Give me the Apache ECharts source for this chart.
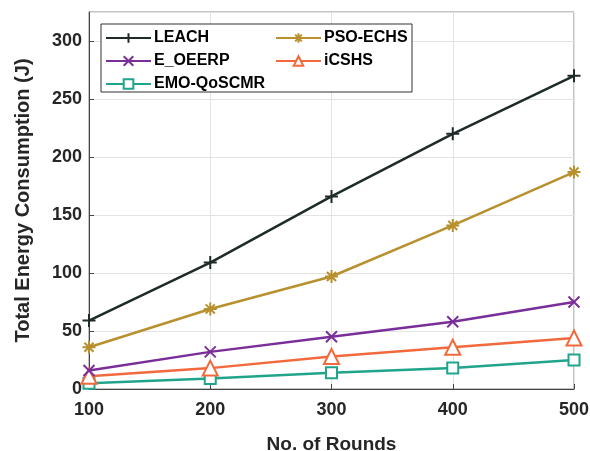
<!DOCTYPE html>
<html><head><meta charset="utf-8">
<script src="https://cdn.jsdelivr.net/npm/echarts@6/dist/echarts.min.js"></script>
<style>html,body{margin:0;padding:0;background:#fff}#c{width:590px;height:451px}</style>
</head><body><div id="c"></div>
<script>
const rounds = [100, 200, 300, 400, 500];
const leach = [59, 109, 166, 220, 270];
const psoEchs = [36, 69, 97, 141, 187];
const eOeerp = [16, 32, 45, 58, 75];
const icshs = [11, 18, 28, 36, 44];
const emo = [5, 9, 14, 18, 25];
const names = ['LEACH', 'PSO-ECHS', 'E_OEERP', 'iCSHS', 'EMO-QoSCMR'];
const colors = ['#1f2b28', '#b8902e', '#7a2e9a', '#f26a3c', '#20a58c'];
const values = [leach, psoEchs, eOeerp, icshs, emo];

const plus = 'path://M5,0L5,10M0,5L10,5';
const star = 'path://M5,0L5,10M0,5L10,5M1.5,1.5L8.5,8.5M8.5,1.5L1.5,8.5';
const cross = 'path://M0,0L10,10M10,0L0,10';
const symbols = [plus, star, cross, 'triangle', 'rect'];
const sizes = [13, 13, 11, 15, 11];

const font = 'Liberation Sans, Arial, sans-serif';
const chart = echarts.init(document.getElementById('c'));
const series = names.map((n, i) => ({
  name: n, type: 'line',
  data: rounds.map((r, j) => [r, values[i][j]]),
  symbol: symbols[i], symbolSize: sizes[i], showAllSymbol: true,
  lineStyle: {color: colors[i], width: 2.5},
  itemStyle: {color: i < 3 ? colors[i] : '#fff', borderColor: colors[i], borderWidth: 2},
  emphasis: {disabled: true},
  z: 10 - i
}));
const legendBase = {
  orient: 'vertical', itemWidth: 45, itemHeight: 12, itemGap: 7,
  textStyle: {fontFamily: font, fontWeight: 'bold', fontSize: 16, color: '#000', padding: [0,0,0,-2]},
  padding: 0
};
chart.setOption({
  animation: false,
  grid: {left: 89, right: 16, top: 12, bottom: 62, show: true, borderColor: '#888', borderWidth: 1,
    containLabel: false, outerBoundsMode: 'none'},
  graphic: [{type: 'rect', shape: {x: 101, y: 24, width: 311, height: 68},
    style: {fill: '#fff', stroke: '#333', lineWidth: 1}, z: 50}],
  legend: [
    Object.assign({}, legendBase, {left: 105, top: 30, data: ['LEACH', 'E_OEERP', 'EMO-QoSCMR'], z: 60}),
    Object.assign({}, legendBase, {left: 275, top: 30, data: ['PSO-ECHS', 'iCSHS'], z: 60})
  ],
  xAxis: {
    type: 'value', min: 100, max: 500, interval: 100,
    name: 'No. of Rounds', nameLocation: 'middle', nameGap: 46,
    nameTextStyle: {fontFamily: font, fontWeight: 'bold', fontSize: 19, color: '#262626'},
    axisLine: {lineStyle: {color: '#444', width: 1}},
    axisTick: {inside: true, length: 5, lineStyle: {color: '#444'}},
    axisLabel: {fontFamily: font, fontWeight: 'bold', fontSize: 18, color: '#262626', margin: 12},
    splitLine: {show: true, lineStyle: {color: '#e3e3e3', width: 1}}
  },
  yAxis: {
    type: 'value', min: 0, max: 325, interval: 50,
    name: 'Total Energy Consumption (J)', nameLocation: 'middle', nameGap: 56,
    nameTextStyle: {fontFamily: font, fontWeight: 'bold', fontSize: 20, color: '#262626'},
    axisLine: {show: true, lineStyle: {color: '#444', width: 1}},
    axisTick: {show: true, inside: true, length: 5, lineStyle: {color: '#444'}},
    axisLabel: {fontFamily: font, fontWeight: 'bold', fontSize: 18, color: '#262626', margin: 7, showMaxLabel: false},
    splitLine: {show: true, lineStyle: {color: '#e3e3e3', width: 1}}
  },
  series: series
});
</script></body></html>
